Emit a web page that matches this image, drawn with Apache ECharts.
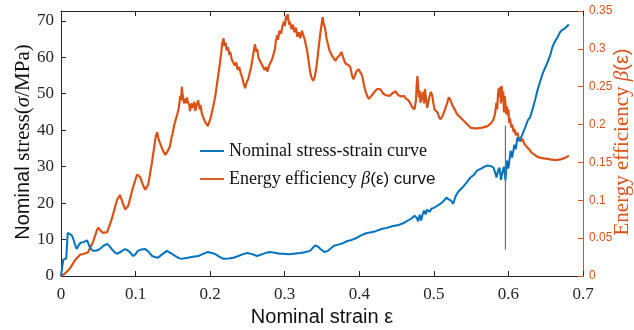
<!DOCTYPE html>
<html><head><meta charset="utf-8">
<script src="https://cdn.jsdelivr.net/npm/echarts@6/dist/echarts.min.js"></script>
<style>html,body{margin:0;padding:0;background:#fff}#c{width:634px;height:330px}</style>
</head><body><div id="c"></div>
<script>
// ---- data ----
const xTicks = [0, 0.1, 0.2, 0.3, 0.4, 0.5, 0.6, 0.7];
// [nominal strain, nominal stress (MPa)]
const stressCurve = [[0,0],[0.003,4.5],[0.005,5.0],[0.007,4.8],[0.009,11.8],[0.012,11.5],[0.015,11.0],[0.017,9.8],[0.019,8.5],[0.021,7.4],[0.023,8.2],[0.026,9.1],[0.030,9.3],[0.035,9.8],[0.039,7.7],[0.043,6.9],[0.048,7.0],[0.052,7.4],[0.057,8.3],[0.062,8.8],[0.065,8.2],[0.068,7.4],[0.072,6.5],[0.075,6.1],[0.080,6.6],[0.086,7.4],[0.091,6.8],[0.097,5.5],[0.100,6.0],[0.103,6.9],[0.108,7.3],[0.113,7.4],[0.118,6.5],[0.122,5.5],[0.126,5.2],[0.130,5.0],[0.136,6.0],[0.142,6.9],[0.147,6.3],[0.153,5.5],[0.158,4.9],[0.162,4.7],[0.166,4.9],[0.170,5.0],[0.177,5.3],[0.184,5.5],[0.190,6.0],[0.197,6.6],[0.202,6.3],[0.207,6.0],[0.212,5.3],[0.218,4.7],[0.225,4.8],[0.231,5.0],[0.238,5.5],[0.244,6.0],[0.250,6.3],[0.256,6.0],[0.263,5.5],[0.270,6.0],[0.276,6.4],[0.280,6.6],[0.287,6.4],[0.293,6.1],[0.298,6.1],[0.305,6.0],[0.312,6.1],[0.321,6.3],[0.327,6.5],[0.334,6.9],[0.338,7.8],[0.341,8.4],[0.345,8.0],[0.348,7.4],[0.353,6.6],[0.358,6.9],[0.362,7.6],[0.366,8.3],[0.372,8.6],[0.378,9.0],[0.384,9.6],[0.390,9.9],[0.397,10.5],[0.403,11.2],[0.410,11.8],[0.416,12.0],[0.422,12.3],[0.430,12.9],[0.437,13.2],[0.442,13.5],[0.447,13.8],[0.453,14.0],[0.460,14.6],[0.466,15.3],[0.470,15.8],[0.474,16.5],[0.477,16.0],[0.479,15.0],[0.481,16.8],[0.483,15.2],[0.485,17.0],[0.487,17.9],[0.489,16.9],[0.491,18.2],[0.494,17.6],[0.497,18.5],[0.500,18.7],[0.504,19.2],[0.507,19.6],[0.510,20.0],[0.514,20.8],[0.517,21.5],[0.520,21.0],[0.523,20.7],[0.526,19.8],[0.529,21.8],[0.532,22.9],[0.535,23.6],[0.538,24.2],[0.543,25.4],[0.549,27.0],[0.554,27.8],[0.558,28.9],[0.564,29.5],[0.568,30.0],[0.572,30.3],[0.576,30.2],[0.580,29.7],[0.582,28.5],[0.584,27.0],[0.586,28.8],[0.588,29.7],[0.590,26.4],[0.592,28.5],[0.594,30.0],[0.596,26.2],[0.598,31.7],[0.600,29.5],[0.603,34.4],[0.605,32.5],[0.608,36.0],[0.610,34.8],[0.612,38.0],[0.615,37.0],[0.619,39.0],[0.622,40.5],[0.626,42.7],[0.629,43.5],[0.632,45.5],[0.636,48.5],[0.639,51.0],[0.642,53.0],[0.646,55.6],[0.649,57.0],[0.652,58.4],[0.656,60.5],[0.659,62.8],[0.662,64.2],[0.666,65.6],[0.669,66.8],[0.672,67.5],[0.675,67.8],[0.677,68.0],[0.679,68.6],[0.681,69.0]];
// [nominal strain, energy efficiency beta]
const effCurve = [[0,0],[0.005,0.003],[0.012,0.010],[0.019,0.021],[0.0255,0.028],[0.030,0.029],[0.036,0.031],[0.043,0.045],[0.048,0.060],[0.050,0.064],[0.053,0.060],[0.056,0.057],[0.062,0.058],[0.068,0.075],[0.075,0.100],[0.079,0.107],[0.083,0.096],[0.086,0.088],[0.090,0.092],[0.096,0.115],[0.102,0.134],[0.106,0.131],[0.110,0.120],[0.113,0.114],[0.117,0.121],[0.122,0.150],[0.125,0.170],[0.127,0.184],[0.129,0.190],[0.131,0.180],[0.133,0.178],[0.135,0.170],[0.137,0.165],[0.140,0.160],[0.143,0.165],[0.146,0.171],[0.148,0.182],[0.150,0.190],[0.152,0.200],[0.154,0.198],[0.156,0.214],[0.158,0.222],[0.160,0.238],[0.161,0.232],[0.162,0.250],[0.163,0.240],[0.164,0.238],[0.165,0.228],[0.166,0.226],[0.167,0.234],[0.168,0.228],[0.169,0.236],[0.170,0.230],[0.172,0.226],[0.173,0.218],[0.175,0.228],[0.177,0.222],[0.179,0.230],[0.180,0.218],[0.182,0.226],[0.184,0.232],[0.186,0.220],[0.187,0.226],[0.189,0.214],[0.191,0.212],[0.193,0.204],[0.195,0.206],[0.197,0.198],[0.199,0.204],[0.201,0.210],[0.203,0.212],[0.205,0.228],[0.207,0.238],[0.209,0.252],[0.211,0.266],[0.213,0.280],[0.215,0.296],[0.216,0.306],[0.218,0.314],[0.219,0.304],[0.221,0.308],[0.222,0.298],[0.224,0.302],[0.226,0.292],[0.227,0.296],[0.229,0.286],[0.231,0.288],[0.233,0.278],[0.235,0.282],[0.237,0.272],[0.239,0.276],[0.241,0.268],[0.243,0.262],[0.245,0.254],[0.247,0.248],[0.249,0.256],[0.251,0.260],[0.253,0.268],[0.255,0.276],[0.257,0.288],[0.259,0.300],[0.260,0.306],[0.262,0.296],[0.263,0.300],[0.265,0.288],[0.267,0.290],[0.269,0.280],[0.271,0.282],[0.273,0.272],[0.275,0.276],[0.277,0.270],[0.279,0.278],[0.281,0.276],[0.283,0.286],[0.285,0.284],[0.287,0.300],[0.288,0.310],[0.290,0.318],[0.291,0.312],[0.293,0.324],[0.295,0.320],[0.297,0.330],[0.299,0.336],[0.300,0.330],[0.302,0.344],[0.303,0.338],[0.304,0.346],[0.306,0.332],[0.307,0.336],[0.309,0.326],[0.311,0.332],[0.313,0.322],[0.315,0.328],[0.317,0.316],[0.319,0.322],[0.321,0.314],[0.323,0.324],[0.325,0.318],[0.327,0.312],[0.329,0.302],[0.330,0.298],[0.332,0.284],[0.334,0.270],[0.336,0.262],[0.338,0.258],[0.340,0.262],[0.342,0.272],[0.344,0.288],[0.346,0.306],[0.348,0.322],[0.350,0.336],[0.351,0.342],[0.352,0.334],[0.354,0.328],[0.356,0.314],[0.358,0.306],[0.360,0.298],[0.362,0.300],[0.364,0.290],[0.366,0.292],[0.368,0.284],[0.370,0.288],[0.372,0.286],[0.374,0.292],[0.376,0.296],[0.378,0.290],[0.380,0.284],[0.382,0.280],[0.385,0.279],[0.388,0.276],[0.390,0.266],[0.392,0.260],[0.394,0.264],[0.396,0.270],[0.399,0.273],[0.402,0.268],[0.404,0.264],[0.406,0.254],[0.408,0.245],[0.411,0.237],[0.413,0.234],[0.415,0.233],[0.418,0.240],[0.421,0.244],[0.424,0.247],[0.428,0.247],[0.432,0.241],[0.435,0.239],[0.437,0.237],[0.441,0.238],[0.444,0.241],[0.446,0.243],[0.449,0.244],[0.451,0.240],[0.454,0.238],[0.457,0.237],[0.460,0.238],[0.462,0.235],[0.466,0.232],[0.469,0.227],[0.471,0.223],[0.474,0.220],[0.476,0.232],[0.477,0.252],[0.478,0.264],[0.479,0.250],[0.480,0.236],[0.481,0.245],[0.482,0.229],[0.484,0.236],[0.485,0.243],[0.487,0.228],[0.488,0.247],[0.489,0.238],[0.490,0.232],[0.491,0.222],[0.493,0.220],[0.494,0.236],[0.496,0.243],[0.498,0.238],[0.499,0.230],[0.501,0.220],[0.502,0.218],[0.505,0.216],[0.507,0.210],[0.509,0.207],[0.512,0.212],[0.515,0.220],[0.518,0.229],[0.520,0.236],[0.522,0.233],[0.525,0.225],[0.528,0.220],[0.531,0.214],[0.535,0.210],[0.540,0.205],[0.545,0.200],[0.549,0.196],[0.554,0.195],[0.558,0.195],[0.565,0.196],[0.572,0.198],[0.577,0.202],[0.580,0.207],[0.582,0.214],[0.583,0.222],[0.584,0.229],[0.585,0.220],[0.586,0.240],[0.587,0.248],[0.588,0.236],[0.589,0.250],[0.590,0.228],[0.591,0.251],[0.592,0.232],[0.593,0.244],[0.594,0.216],[0.595,0.238],[0.596,0.228],[0.597,0.214],[0.598,0.224],[0.599,0.212],[0.600,0.220],[0.601,0.202],[0.602,0.208],[0.604,0.196],[0.605,0.200],[0.607,0.190],[0.608,0.194],[0.610,0.186],[0.612,0.189],[0.614,0.182],[0.615,0.184],[0.617,0.178],[0.619,0.181],[0.621,0.175],[0.623,0.174],[0.625,0.170],[0.627,0.168],[0.629,0.166],[0.631,0.163],[0.634,0.161],[0.638,0.158],[0.643,0.156],[0.650,0.155],[0.656,0.154],[0.663,0.153],[0.670,0.154],[0.676,0.156],[0.681,0.159]];
// vertical gray marker line: [strain, stress]
const markerLine = [[0.596, 7.2], [0.596, 41.3]];

const BLUE = '#0072BD', ORANGE = '#D95319', AX = '#262626';
const serif = 'Liberation Serif', sans = 'Liberation Sans';

const chart = echarts.init(document.getElementById('c'));
chart.setOption({
  animation: false,
  backgroundColor: '#fff',
  grid: { left: 61, right: 51, top: 11, bottom: 54, containLabel: false, outerBoundsMode: 'none' },
  legend: {
    orient: 'vertical', left: 195, top: 137, itemWidth: 24, itemHeight: 14, itemGap: 10,
    icon: 'path://M0,6L25,6L25,8L0,8Z',
    textStyle: { fontFamily: serif, fontSize: 18, color: '#111',
      rich: {
        tSerif: { fontFamily: serif, fontSize: 18, color: '#111' },
        tBeta: { fontFamily: serif, fontStyle: 'italic', fontSize: 18, color: '#111' },
        tSans: { fontFamily: sans, fontSize: 17, color: '#111' }
      } },
    formatter: n => n === 'stress' ? '{tSerif|Nominal stress-strain curve}' : '{tSerif|Energy efficiency }{tBeta|β}{tSans|(ε) curve}',
    data: ['stress', 'eff']
  },
  xAxis: [{
    type: 'value', min: 0, max: 0.7, interval: 0.1, position: 'bottom',
    axisLine: { show: true, onZero: false, lineStyle: { color: AX, width: 1 } },
    axisTick: { show: true, inside: true, length: 5, lineStyle: { color: AX } },
    axisLabel: { fontFamily: serif, fontSize: 17, color: AX, margin: 10,
      formatter: v => xTicks.includes(+v.toFixed(3)) ? String(+v.toFixed(1)) : '' },
    splitLine: { show: false },
    name: 'Nominal strain ε', nameLocation: 'middle', nameGap: 31,
    nameTextStyle: { fontFamily: sans, fontSize: 20, color: '#111' }
  }, {
    type: 'value', min: 0, max: 0.7, interval: 0.1, position: 'top',
    axisLine: { show: true, onZero: false, lineStyle: { color: AX, width: 1 } },
    axisTick: { show: true, inside: true, length: 5, lineStyle: { color: AX } },
    axisLabel: { show: false }, splitLine: { show: false }
  }],
  yAxis: [{
    type: 'value', min: 0, max: 72.7, interval: 10, position: 'left',
    axisLine: { show: true, onZero: false, lineStyle: { color: AX, width: 1 } },
    axisTick: { show: true, inside: true, length: 5, lineStyle: { color: AX } },
    axisLabel: { fontFamily: serif, fontSize: 17, color: AX, margin: 7, showMaxLabel: false,
      formatter: v => (Math.abs(v % 10) < 1e-6 ? String(v) : '') },
    splitLine: { show: false }
  }, {
    type: 'value', min: 0, max: 0.35, interval: 0.05, position: 'right',
    axisLine: { show: true, onZero: false, lineStyle: { color: ORANGE, width: 1 } },
    axisTick: { show: true, inside: true, length: 5, lineStyle: { color: ORANGE } },
    axisLabel: { fontFamily: sans, fontSize: 12, color: ORANGE, margin: 6,
      formatter: v => String(+v.toFixed(2)) },
    splitLine: { show: false }
  }],
  graphic: [{
    type: 'text', x: 13, y: 142, rotation: Math.PI / 2, z: 100,
    style: { text: '{lblSans|Nominal }{lblSerif|stress(}{lblSig|σ}{lblSerif|/MPa)}', align: 'center', verticalAlign: 'top',
      rich: {
        lblSans: { fontFamily: sans, fontSize: 20, fill: '#111' },
        lblSerif: { fontFamily: serif, fontSize: 21, fill: '#111' },
        lblSig: { fontFamily: serif, fontStyle: 'italic', fontSize: 21, fill: '#111' }
      } }
  }, {
    type: 'text', x: 612, y: 142, rotation: Math.PI / 2, z: 100,
    style: { text: '{rSerif|Energy efficiency }{rBeta|β}{rSans|(ε)}', align: 'center', verticalAlign: 'top',
      rich: {
        rSerif: { fontFamily: serif, fontSize: 21, fill: ORANGE },
        rBeta: { fontFamily: serif, fontStyle: 'italic', fontSize: 21, fill: ORANGE },
        rSans: { fontFamily: sans, fontSize: 20, fill: ORANGE }
      } }
  }],
  series: [{
    name: 'stress', type: 'line', xAxisIndex: 0, yAxisIndex: 0, showSymbol: false, symbol: 'none',
    data: stressCurve, lineStyle: { color: BLUE, width: 2 }, itemStyle: { color: BLUE }, z: 3
  }, {
    name: 'eff', type: 'line', xAxisIndex: 0, yAxisIndex: 1, showSymbol: false, symbol: 'none',
    data: effCurve, lineStyle: { color: ORANGE, width: 2.2 }, itemStyle: { color: ORANGE }, z: 2
  }, {
    name: 'marker', type: 'line', xAxisIndex: 0, yAxisIndex: 0, showSymbol: false, symbol: 'none',
    data: markerLine, lineStyle: { color: '#707070', width: 1.2 }, z: 4
  }]
});
</script></body></html>
